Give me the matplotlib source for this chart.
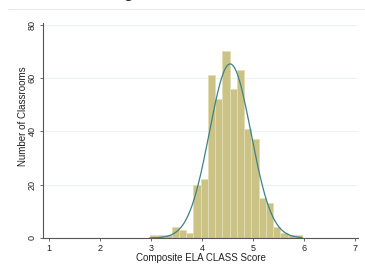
import numpy as np
import matplotlib
matplotlib.use('Agg')
import matplotlib.pyplot as plt
from matplotlib.lines import Line2D

# histogram of composite ELA CLASS scores (counts)
bin_start = 2.98
bin_width = 0.142
counts = [1, 1, 1, 4, 3, 2, 20, 22, 61, 52, 70, 56, 63, 41, 37, 15, 13, 4, 2, 1, 1]

xticks = [1, 2, 3, 4, 5, 6, 7]
yticks = [0, 20, 40, 60, 80]

counts = np.asarray(counts, dtype=float)
edges = bin_start + bin_width * np.arange(len(counts) + 1)
centers = 0.5 * (edges[:-1] + edges[1:])

# normal curve fitted to the grouped data
n = counts.sum()
mu = (counts * centers).sum() / n
sd = np.sqrt((counts * (centers - mu) ** 2).sum() / n)
xs = np.linspace(bin_start, edges[-1], 300)
ys = n * bin_width * np.exp(-0.5 * ((xs - mu) / sd) ** 2) / (sd * np.sqrt(2 * np.pi))

plt.rcParams['font.family'] = ['Liberation Sans', 'DejaVu Sans']

fig = plt.figure(figsize=(3.65, 2.65), dpi=100)
ax = fig.add_axes([43 / 365, 27 / 265, 315 / 365, 215 / 265])

for y in yticks[1:]:
    ax.axhline(y, color='#eaf2f3', lw=0.8, zorder=0)

ax.bar(edges[:-1], counts, width=bin_width, align='edge',
       color='#cbc385', edgecolor='#e3ddb5', linewidth=0.6, zorder=2)
ax.plot(xs, ys, color='#3f8189', lw=0.9, zorder=3)

ax.set_xlim(0.88, 7.06)
ax.set_ylim(0, 80.6)
ax.set_xticks(xticks)
ax.set_yticks(yticks)
ax.tick_params(axis='both', labelsize=6.5, length=2.5, width=0.6,
               color='#555555', labelcolor='#222222', pad=2)
for lab in ax.get_yticklabels():
    lab.set_rotation(90)
    lab.set_va('center')

for side in ['top', 'right']:
    ax.spines[side].set_visible(False)
for side in ['left', 'bottom']:
    ax.spines[side].set_color('#555555')
    ax.spines[side].set_linewidth(0.8)

fig.text(0.5 * (43 + 358) / 365, 1 - 258 / 265, 'Composite ELA CLASS Score',
         ha='center', va='center', fontsize=7, color='#222222')
fig.text(23 / 365, 1 - 116 / 265, 'Number of Classrooms', rotation=90,
         ha='center', va='center', fontsize=7, color='#222222')

# bits of the surrounding page
fig.add_artist(Line2D([8 / 365, 1], [1 - 9 / 265, 1 - 9 / 265],
                      color='#e6e6e6', lw=0.6))
fig.text(128 / 365, 1 + 1.8 / 265, 'g', ha='center', va='baseline',
         fontsize=12, color='#222222')

fig.savefig('out.png', dpi=100, facecolor='white')
